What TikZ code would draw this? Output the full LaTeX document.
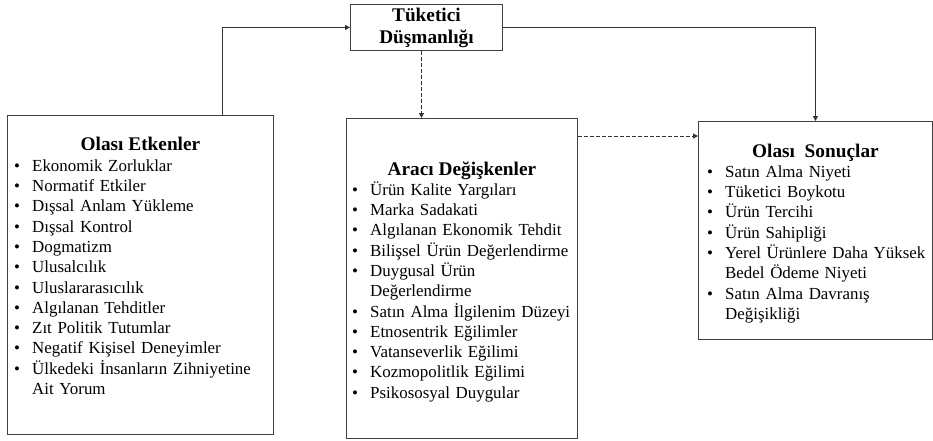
\documentclass[tikz,border=0pt]{standalone}
\usepackage{fontspec}
\setmainfont{Liberation Serif}
\usetikzlibrary{arrows.meta,positioning}

% one bullet line, wrapped lines hang under the text
\newcommand{\itm}[1]{\hangindent=18pt\hangafter=1\noindent\makebox[18pt][l]{\rule{0pt}{16pt}\textbullet}#1\par}
\newcommand{\satir}{\hfil\break}

\begin{document}
\begin{tikzpicture}[
		x=1pt, y=-1pt,
		>={Triangle[length=5pt,width=5pt]},
		frame/.style={
			draw=black!75,
			line width=0.9pt,
			inner sep=0pt,
			anchor=north west
		},
		baslik/.style={
			font=\fontsize{19.3}{24}\selectfont\bfseries,
			inner sep=0pt,
			anchor=base
		},
		liste/.style={
			font=\fontsize{16.9}{20.3}\selectfont,
			align=left,
			inner sep=0pt,
			anchor=north west
		},
		ok/.style={->, line width=0.9pt, draw=black!80},
		kesik/.style={ok, dash pattern=on 4pt off 2pt}
		]
		\useasboundingbox (0,0) rectangle (933,440);
		
		% Central construct at the top
		\node[frame, minimum width=152pt, minimum height=46pt, align=center,
		font=\fontsize{19.3}{22}\selectfont\bfseries] (tuk) at (350,4)
		{T\"uketici\\D\"u\c{s}manl\i\u{g}\i};
		
		% Antecedents on the left
		\node[frame, minimum width=266pt, minimum height=319pt] (etk) at (7,115) {};
		\node[baslik] (etkT) at ([yshift=-35pt]etk.north) {Olası Etkenler};
		\node[liste, text width=255pt] (etkL) at ([xshift=7pt,yshift=-40pt]etk.north west) {%
			\itm{Ekonomik Zorluklar}
			\itm{Normatif Etkiler}
			\itm{Dışsal Anlam Yükleme}
			\itm{Dışsal Kontrol}
			\itm{Dogmatizm}
			\itm{Ulusalcılık}
			\itm{Uluslararasıcılık}
			\itm{Algılanan Tehditler}
			\itm{Zıt Politik Tutumlar}
			\itm{Negatif Kişisel Deneyimler}
			\itm{Ülkedeki İnsanların Zihniyetine\satir Ait Yorum}
		};
		
		% Mediators in the middle
		\node[frame, minimum width=231pt, minimum height=320pt] (arc) at (346,118) {};
		\node[baslik] (arcT) at ([yshift=-57pt]arc.north) {Aracı Değişkenler};
		\node[liste, text width=235pt] (arcL) at ([xshift=6pt,yshift=-61pt]arc.north west) {%
			\itm{Ürün Kalite Yargıları}
			\itm{Marka Sadakati}
			\itm{Algılanan Ekonomik Tehdit}
			\itm{Bilişsel Ürün Değerlendirme}
			\itm{Duygusal Ürün\satir Değerlendirme}
			\itm{Satın Alma İlgilenim Düzeyi}
			\itm{Etnosentrik Eğilimler}
			\itm{Vatanseverlik Eğilimi}
			\itm{Kozmopolitlik Eğilimi}
			\itm{Psikososyal Duygular}
		};
		
		% Outcomes on the right
		\node[frame, minimum width=234pt, minimum height=218pt] (son) at (698,121) {};
		\node[baslik] (sonT) at ([yshift=-36pt]son.north) {Olası\ \ Sonuçlar};
		\node[liste, text width=230pt] (sonL) at ([xshift=9pt,yshift=-40pt]son.north west) {%
			\itm{Satın Alma Niyeti}
			\itm{Tüketici Boykotu}
			\itm{Ürün Tercihi}
			\itm{Ürün Sahipliği}
			\itm{Yerel Ürünlere Daha Yüksek\satir Bedel Ödeme Niyeti}
			\itm{Satın Alma Davranış\satir Değişikliği}
		};
		
		% Connectors
		\draw[ok] ([xshift=82pt]etk.north) |- (tuk.west);
		\draw[ok] (tuk.east) -| (son.north);
		\draw[kesik] ([xshift=-5pt]tuk.south) -- ([xshift=-5pt]tuk.south |- arc.north);
		\draw[kesik] ([yshift=-18pt]arc.north east) -- ([yshift=-18pt]arc.north east -| son.west);
		
\end{tikzpicture}
\end{document}
